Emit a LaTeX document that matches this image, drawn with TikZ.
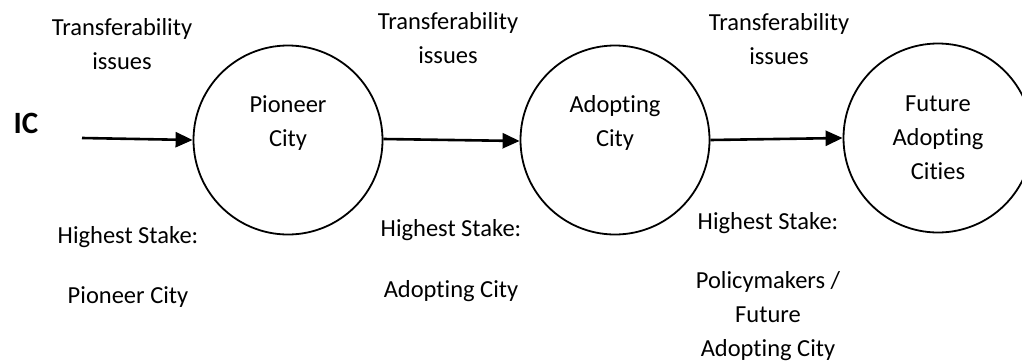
\documentclass[tikz,border=0pt]{standalone}
\usepackage{fontspec}
\setmainfont{Carlito}[Ligatures=NoCommon, RawFeature={-liga;-calt;-dlig}]
\usetikzlibrary{arrows.meta}
\begin{document}
\begin{tikzpicture}[x=1pt,y=-1pt,
  txt/.style={font=\fontsize{24.5pt}{34pt}\selectfont, align=center, inner sep=0pt},
  city/.style={txt, circle, draw, line width=1.8pt, minimum size=189pt},
  flow/.style={line width=2.6pt, -{Triangle[length=17pt,width=15pt]}}]
  \useasboundingbox (0,0) rectangle (1022,362);
  \fill[white] (0,0) rectangle (1022,362);

  % cities
  \node[city] (c1) at (288,140) {Pioneer\\City\\\vphantom{Cy}};
  \node[city] (c2) at (615,140) {Adopting\\City\\\vphantom{Cy}};
  \node[city] (c3) at (938,138) {Future\\Adopting\\Cities};

  % entry point
  \node[txt, font=\fontsize{31pt}{34pt}\selectfont\bfseries] (ic) at (26,123) {IC};
  \coordinate (icstart) at (82,138);

  % flows
  \draw[flow] (icstart) -- (c1.west);
  \draw[flow] ([yshift=1pt]c1.east) -- ([yshift=-1pt]c2.west);
  \draw[flow] (c2.east) -- (c3.west);

  % issues above each flow
  \node[txt] (t1) at (122,44.5) {Transferability\\issues};
  \node[txt] (t2) at (448,38) {Transferability\\issues};
  \node[txt] (t3) at (779,39) {Transferability\\issues};

  % stakeholders below each flow
  \node[txt] (h1) at (128,237) {Highest Stake:};
  \node[txt] (s1) at (128,297) {Pioneer City};
  \node[txt] (h2) at (451,230) {Highest Stake:};
  \node[txt] (s2) at (451,291) {Adopting City};
  \node[txt] (h3) at (768,223) {Highest Stake:};
  \node[txt] (s3) at (768,316.5) {Policymakers /\\Future\\Adopting City};
\end{tikzpicture}
\end{document}
